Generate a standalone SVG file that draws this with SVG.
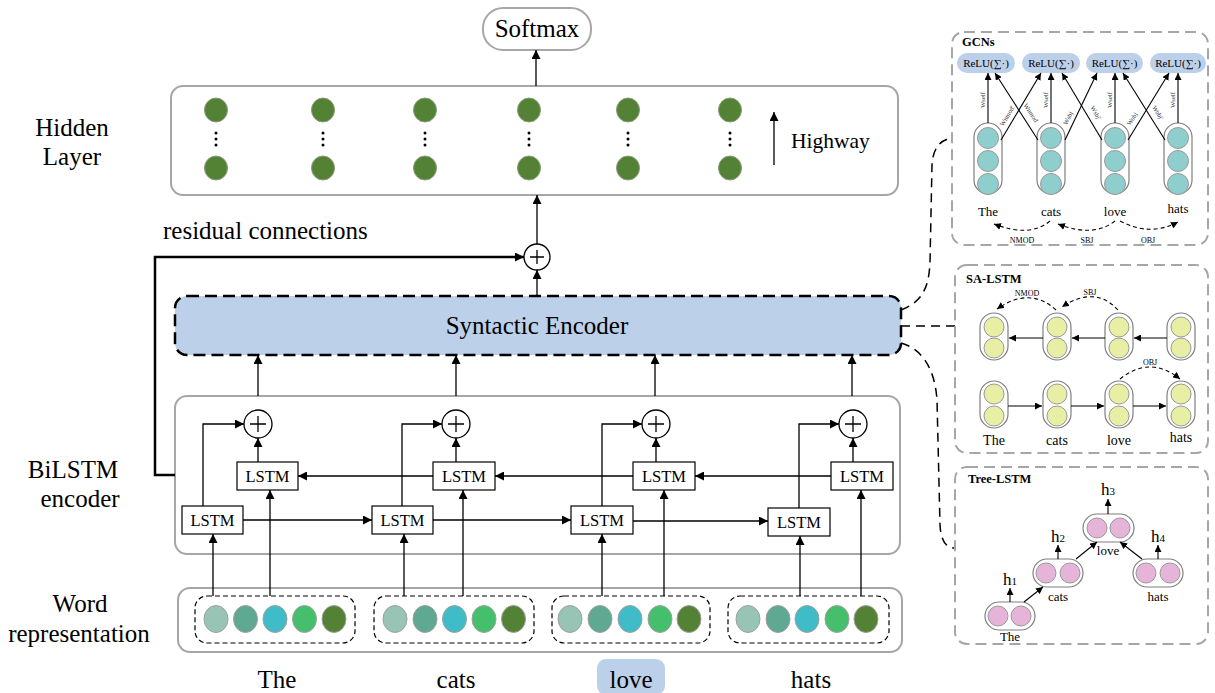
<svg xmlns="http://www.w3.org/2000/svg" width="1215" height="693" viewBox="0 0 1215 693" font-family="'Liberation Serif', 'Times New Roman', serif">
<defs>
<style>
text{font-family:"Liberation Serif","Times New Roman",serif;fill:#000}
.big{font-size:25px}
.mid{font-size:21.5px}
.lt{font-size:16.5px}
.gbox{fill:#fff;stroke:#a6a6a6;stroke-width:2}
.pbox{fill:#fff;stroke:#a6a6a6;stroke-width:2;stroke-dasharray:11 6}
.ln{stroke:#000;stroke-width:1.3;fill:none}
.thick{stroke:#000;stroke-width:2.5;fill:none}
.lstm{fill:#fff;stroke:#000;stroke-width:1.2}
.plus{fill:#fff;stroke:#000;stroke-width:1.3}
.hd{fill:#548235;stroke:#8a9a80;stroke-width:1}
.dash{stroke:#000;stroke-width:1.5;fill:none;stroke-dasharray:9 6}
.sdash{stroke:#000;stroke-width:1.1;fill:none;stroke-dasharray:4 3}
.cap{fill:#fff;stroke:#7f7f7f;stroke-width:1.2}
.teal{fill:#8ecfcd;stroke:#9a9a9a;stroke-width:1}
.yel{fill:#e8eea4;stroke:#9a9a9a;stroke-width:1}
.pink{fill:#e6b4d8;stroke:#9a9a9a;stroke-width:1}
.pill{fill:#bdd0e9}
.pt{font-size:11px}
.wt{font-size:6.5px;fill:#333}
.sw{font-size:13px}
.lab{font-size:8px}
.hdr{font-size:12.5px;font-weight:bold}
.sl{stroke:#000;stroke-width:1.1;fill:none}
</style>
<marker id="ah" viewBox="0 0 10 10" refX="10" refY="5" markerWidth="9" markerHeight="9" markerUnits="userSpaceOnUse" orient="auto"><path d="M0,0 L10,5 L0,10 z" fill="#000"/></marker>
<marker id="as" viewBox="0 0 10 10" refX="10" refY="5" markerWidth="7" markerHeight="7" markerUnits="userSpaceOnUse" orient="auto"><path d="M0,0 L10,5 L0,10 z" fill="#000"/></marker>
</defs>
<rect width="1215" height="693" fill="#fff"/>

<g id="labels">
<text class="big" x="72" y="136" text-anchor="middle">Hidden</text>
<text class="big" x="72" y="165" text-anchor="middle">Layer</text>
<text class="big" x="73" y="478" text-anchor="middle" font-size="23">BiLSTM</text>
<text class="big" x="80" y="507" text-anchor="middle">encoder</text>
<text class="big" x="80" y="612" text-anchor="middle">Word</text>
<text class="big" x="79" y="642" text-anchor="middle" font-size="26">representation</text>
<text class="big" x="163" y="239">residual connections</text>
</g>

<g id="softmax">
<rect x="483" y="8" width="108" height="42" rx="20" class="gbox"/>
<text class="big" x="537" y="37" text-anchor="middle">Softmax</text>
</g>

<g id="hidden-layer">
<rect x="171" y="86" width="727" height="109" rx="12" class="gbox"/>
<g>
<ellipse cx="216" cy="110" rx="11.5" ry="12" class="hd"/><ellipse cx="216" cy="168" rx="11.5" ry="12" class="hd"/>
<ellipse cx="323" cy="110" rx="11.5" ry="12" class="hd"/><ellipse cx="323" cy="168" rx="11.5" ry="12" class="hd"/>
<ellipse cx="425" cy="110" rx="11.5" ry="12" class="hd"/><ellipse cx="425" cy="168" rx="11.5" ry="12" class="hd"/>
<ellipse cx="529" cy="110" rx="11.5" ry="12" class="hd"/><ellipse cx="529" cy="168" rx="11.5" ry="12" class="hd"/>
<ellipse cx="628" cy="110" rx="11.5" ry="12" class="hd"/><ellipse cx="628" cy="168" rx="11.5" ry="12" class="hd"/>
<ellipse cx="730" cy="110" rx="11.5" ry="12" class="hd"/><ellipse cx="730" cy="168" rx="11.5" ry="12" class="hd"/>
</g>
<g fill="#000">
<circle cx="216" cy="133" r="1.5"/><circle cx="216" cy="139" r="1.5"/><circle cx="216" cy="145" r="1.5"/>
<circle cx="323" cy="133" r="1.5"/><circle cx="323" cy="139" r="1.5"/><circle cx="323" cy="145" r="1.5"/>
<circle cx="425" cy="133" r="1.5"/><circle cx="425" cy="139" r="1.5"/><circle cx="425" cy="145" r="1.5"/>
<circle cx="529" cy="133" r="1.5"/><circle cx="529" cy="139" r="1.5"/><circle cx="529" cy="145" r="1.5"/>
<circle cx="628" cy="133" r="1.5"/><circle cx="628" cy="139" r="1.5"/><circle cx="628" cy="145" r="1.5"/>
<circle cx="730" cy="133" r="1.5"/><circle cx="730" cy="139" r="1.5"/><circle cx="730" cy="145" r="1.5"/>
</g>
<line x1="774" y1="165" x2="774" y2="112" class="ln" marker-end="url(#ah)"/>
<text class="mid" x="791" y="148">Highway</text>
</g>

<g id="plus-top">
<circle cx="537" cy="257" r="13" class="plus"/>
<path d="M530,257 h14 M537,250 v14" class="ln"/>
</g>

<g id="syntactic-encoder">
<rect x="175" y="296" width="726" height="59" rx="12" fill="#bdd0e9" stroke="#000" stroke-width="2.5" stroke-dasharray="12 6"/>
<text class="big" x="537" y="334" text-anchor="middle">Syntactic Encoder</text>
</g>

<g id="bilstm-encoder">
<rect x="175" y="396" width="725" height="158" rx="12" class="gbox"/>
<g id="col1">
<circle cx="258" cy="424" r="14" class="plus"/><path d="M250,424 h16 M258,416 v16" class="ln"/>
<rect x="237" y="462" width="61" height="28" class="lstm"/><text class="lt" x="267.5" y="482" text-anchor="middle">LSTM</text>
<rect x="182" y="506" width="61" height="28" class="lstm"/><text class="lt" x="212.5" y="526" text-anchor="middle">LSTM</text>
</g>
<g id="col2">
<circle cx="456" cy="424" r="14" class="plus"/><path d="M448,424 h16 M456,416 v16" class="ln"/>
<rect x="433" y="462" width="62" height="28" class="lstm"/><text class="lt" x="464" y="482" text-anchor="middle">LSTM</text>
<rect x="372" y="506" width="61" height="28" class="lstm"/><text class="lt" x="402.5" y="526" text-anchor="middle">LSTM</text>
</g>
<g id="col3">
<circle cx="656" cy="424" r="14" class="plus"/><path d="M648,424 h16 M656,416 v16" class="ln"/>
<rect x="633" y="462" width="62" height="28" class="lstm"/><text class="lt" x="664" y="482" text-anchor="middle">LSTM</text>
<rect x="571" y="506" width="62" height="28" class="lstm"/><text class="lt" x="602" y="526" text-anchor="middle">LSTM</text>
</g>
<g id="col4">
<circle cx="853" cy="424" r="14" class="plus"/><path d="M845,424 h16 M853,416 v16" class="ln"/>
<rect x="831" y="462" width="62" height="28" class="lstm"/><text class="lt" x="862" y="482" text-anchor="middle">LSTM</text>
<rect x="768" y="508" width="62" height="28" class="lstm"/><text class="lt" x="799" y="528" text-anchor="middle">LSTM</text>
</g>
</g>

<g id="word-representation">
<rect x="178" y="588" width="724" height="64" rx="12" class="gbox"/>
<g fill="none" stroke="#000" stroke-width="1.2" stroke-dasharray="5 3">
<rect x="195" y="596" width="160" height="47" rx="12"/>
<rect x="374" y="596" width="160" height="47" rx="12"/>
<rect x="552" y="596" width="158" height="47" rx="12"/>
<rect x="728" y="596" width="161" height="47" rx="12"/>
</g>
<g stroke="#a0a0a0" stroke-width="1">
<ellipse cx="216" cy="619" rx="12" ry="13.5" fill="#97c4b4"/><ellipse cx="245.5" cy="619" rx="12" ry="13.5" fill="#5fa891"/><ellipse cx="275" cy="619" rx="12" ry="13.5" fill="#3fbcc8"/><ellipse cx="304.5" cy="619" rx="12" ry="13.5" fill="#45bf6b"/><ellipse cx="334" cy="619" rx="12" ry="13.5" fill="#548235"/>
<ellipse cx="395" cy="619" rx="12" ry="13.5" fill="#97c4b4"/><ellipse cx="425" cy="619" rx="12" ry="13.5" fill="#5fa891"/><ellipse cx="454.5" cy="619" rx="12" ry="13.5" fill="#3fbcc8"/><ellipse cx="484" cy="619" rx="12" ry="13.5" fill="#45bf6b"/><ellipse cx="513.5" cy="619" rx="12" ry="13.5" fill="#548235"/>
<ellipse cx="570" cy="619" rx="12" ry="13.5" fill="#97c4b4"/><ellipse cx="600" cy="619" rx="12" ry="13.5" fill="#5fa891"/><ellipse cx="630" cy="619" rx="12" ry="13.5" fill="#3fbcc8"/><ellipse cx="660" cy="619" rx="12" ry="13.5" fill="#45bf6b"/><ellipse cx="689" cy="619" rx="12" ry="13.5" fill="#548235"/>
<ellipse cx="748" cy="619" rx="12" ry="13.5" fill="#97c4b4"/><ellipse cx="778" cy="619" rx="12" ry="13.5" fill="#5fa891"/><ellipse cx="807" cy="619" rx="12" ry="13.5" fill="#3fbcc8"/><ellipse cx="837" cy="619" rx="12" ry="13.5" fill="#45bf6b"/><ellipse cx="866" cy="619" rx="12" ry="13.5" fill="#548235"/>
</g>
</g>

<g id="words">
<rect x="597" y="659" width="68" height="36" rx="9" fill="#bdd0e9"/>
<text class="big" x="277" y="688" text-anchor="middle">The</text>
<text class="big" x="456" y="688" text-anchor="middle">cats</text>
<text class="big" x="631" y="688" text-anchor="middle">love</text>
<text class="big" x="811" y="688" text-anchor="middle">hats</text>
</g>

<g id="connectors">
<line x1="536" y1="86" x2="536" y2="50" class="ln" stroke-width="1.6" marker-end="url(#ah)"/>
<line x1="537" y1="244" x2="537" y2="195" class="ln" marker-end="url(#ah)"/>
<line x1="537" y1="296" x2="537" y2="270" class="ln" marker-end="url(#ah)"/>
<path d="M175,475 H155 V257 H524" class="thick" marker-end="url(#ah)"/>
<line x1="258" y1="396" x2="258" y2="355" class="ln" marker-end="url(#ah)"/>
<line x1="456" y1="396" x2="456" y2="355" class="ln" marker-end="url(#ah)"/>
<line x1="655" y1="396" x2="655" y2="355" class="ln" marker-end="url(#ah)"/>
<line x1="852" y1="396" x2="852" y2="355" class="ln" marker-end="url(#ah)"/>
<line x1="258" y1="462" x2="258" y2="438" class="ln" marker-end="url(#ah)"/>
<line x1="456" y1="462" x2="456" y2="438" class="ln" marker-end="url(#ah)"/>
<line x1="656" y1="462" x2="656" y2="438" class="ln" marker-end="url(#ah)"/>
<line x1="853" y1="462" x2="853" y2="438" class="ln" marker-end="url(#ah)"/>
<path d="M203,506 V424 H244" class="ln" marker-end="url(#ah)"/>
<path d="M402,506 V424 H442" class="ln" marker-end="url(#ah)"/>
<path d="M602,506 V424 H642" class="ln" marker-end="url(#ah)"/>
<path d="M799,508 V424 H839" class="ln" marker-end="url(#ah)"/>
<line x1="433" y1="476" x2="298" y2="476" class="ln" marker-end="url(#ah)"/>
<line x1="633" y1="476" x2="495" y2="476" class="ln" marker-end="url(#ah)"/>
<line x1="831" y1="476" x2="695" y2="476" class="ln" marker-end="url(#ah)"/>
<line x1="243" y1="520" x2="372" y2="520" class="ln" marker-end="url(#ah)"/>
<line x1="433" y1="520" x2="571" y2="520" class="ln" marker-end="url(#ah)"/>
<line x1="633" y1="521" x2="768" y2="521" class="ln" marker-end="url(#ah)"/>
<line x1="213" y1="596" x2="213" y2="534" class="ln" marker-end="url(#ah)"/>
<line x1="270" y1="596" x2="270" y2="490" class="ln" marker-end="url(#ah)"/>
<line x1="404" y1="596" x2="404" y2="534" class="ln" marker-end="url(#ah)"/>
<line x1="463" y1="596" x2="463" y2="490" class="ln" marker-end="url(#ah)"/>
<line x1="602" y1="596" x2="602" y2="534" class="ln" marker-end="url(#ah)"/>
<line x1="664" y1="596" x2="664" y2="490" class="ln" marker-end="url(#ah)"/>
<line x1="800" y1="596" x2="800" y2="536" class="ln" marker-end="url(#ah)"/>
<line x1="861" y1="596" x2="861" y2="490" class="ln" marker-end="url(#ah)"/>
<path d="M901,310 C922,302 929,288 930,262 L932,165 C933,148 940,140 952,138" class="dash"/>
<path d="M901,326 L955,326" class="dash"/>
<path d="M901,343 C923,349 935,370 937,400 L940,525 C941,541 946,548 955,548" class="dash"/>
</g>

<g id="gcns">
<rect x="952" y="32" width="256" height="213" rx="12" class="pbox"/>
<text class="hdr" x="962" y="46">GCNs</text>
<rect x="957" y="53" width="58" height="20" rx="10" class="pill"/>
<rect x="1022" y="53" width="58" height="20" rx="10" class="pill"/>
<rect x="1086" y="53" width="57" height="20" rx="10" class="pill"/>
<rect x="1150" y="53" width="56" height="20" rx="10" class="pill"/>
<text class="pt" x="986" y="67" text-anchor="middle">ReLU(∑·)</text>
<text class="pt" x="1051" y="67" text-anchor="middle">ReLU(∑·)</text>
<text class="pt" x="1114.5" y="67" text-anchor="middle">ReLU(∑·)</text>
<text class="pt" x="1178" y="67" text-anchor="middle">ReLU(∑·)</text>
<g>
<rect x="974" y="123" width="28" height="71" rx="14" class="cap"/>
<circle cx="988" cy="138" r="10.5" class="teal"/><circle cx="988" cy="161" r="10.5" class="teal"/><circle cx="988" cy="184" r="10.5" class="teal"/>
<rect x="1037" y="123" width="28" height="71" rx="14" class="cap"/>
<circle cx="1051" cy="138" r="10.5" class="teal"/><circle cx="1051" cy="161" r="10.5" class="teal"/><circle cx="1051" cy="184" r="10.5" class="teal"/>
<rect x="1101" y="123" width="28" height="71" rx="14" class="cap"/>
<circle cx="1115" cy="138" r="10.5" class="teal"/><circle cx="1115" cy="161" r="10.5" class="teal"/><circle cx="1115" cy="184" r="10.5" class="teal"/>
<rect x="1164" y="123" width="28" height="71" rx="14" class="cap"/>
<circle cx="1178" cy="138" r="10.5" class="teal"/><circle cx="1178" cy="161" r="10.5" class="teal"/><circle cx="1178" cy="184" r="10.5" class="teal"/>
</g>
<g>
<line x1="988" y1="123" x2="988" y2="73" class="sl" marker-end="url(#as)"/>
<line x1="1051" y1="123" x2="1051" y2="73" class="sl" marker-end="url(#as)"/>
<line x1="1115" y1="123" x2="1115" y2="73" class="sl" marker-end="url(#as)"/>
<line x1="1178" y1="123" x2="1178" y2="73" class="sl" marker-end="url(#as)"/>
<line x1="1001" y1="140" x2="1041" y2="73" class="sl" marker-end="url(#as)"/>
<line x1="1038" y1="140" x2="995" y2="73" class="sl" marker-end="url(#as)"/>
<line x1="1065" y1="140" x2="1097" y2="73" class="sl" marker-end="url(#as)"/>
<line x1="1102" y1="140" x2="1062" y2="73" class="sl" marker-end="url(#as)"/>
<line x1="1128" y1="140" x2="1169" y2="73" class="sl" marker-end="url(#as)"/>
<line x1="1165" y1="140" x2="1123" y2="73" class="sl" marker-end="url(#as)"/>
</g>
<g>
<text class="wt" transform="translate(985,100) rotate(-90)" text-anchor="middle">Wself</text>
<text class="wt" transform="translate(1048,100) rotate(-90)" text-anchor="middle">Wself</text>
<text class="wt" transform="translate(1112,100) rotate(-90)" text-anchor="middle">Wself</text>
<text class="wt" transform="translate(1175,100) rotate(-90)" text-anchor="middle">Wself</text>
<text class="wt" transform="translate(1009,117) rotate(-59)" text-anchor="middle">Wnmod'</text>
<text class="wt" transform="translate(1029,114) rotate(57)" text-anchor="middle">Wnmod</text>
<text class="wt" transform="translate(1070,119) rotate(-64)" text-anchor="middle">Wsbj</text>
<text class="wt" transform="translate(1094,114) rotate(59)" text-anchor="middle">Wsbj'</text>
<text class="wt" transform="translate(1134,120) rotate(-58)" text-anchor="middle">Wobj</text>
<text class="wt" transform="translate(1156,114) rotate(58)" text-anchor="middle">Wobj'</text>
</g>
<text class="sw" x="988" y="216" text-anchor="middle">The</text>
<text class="sw" x="1051" y="216" text-anchor="middle">cats</text>
<text class="sw" x="1115" y="216" text-anchor="middle">love</text>
<text class="sw" x="1178" y="213" text-anchor="middle">hats</text>
<path d="M1050,221 Q1030,238 994,224" class="sdash" marker-end="url(#as)"/>
<path d="M1115,221 Q1093,238 1058,224" class="sdash" marker-end="url(#as)"/>
<path d="M1120,221 Q1150,237 1178,222" class="sdash" marker-end="url(#as)"/>
<text class="lab" x="1022" y="243" text-anchor="middle">NMOD</text>
<text class="lab" x="1087" y="243" text-anchor="middle">SBJ</text>
<text class="lab" x="1148" y="243" text-anchor="middle">OBJ</text>
</g>

<g id="sa-lstm">
<rect x="955" y="265" width="253" height="188" rx="12" class="pbox"/>
<text class="hdr" x="966" y="283">SA-LSTM</text>
<g>
<rect x="980" y="313" width="28" height="47" rx="14" class="cap"/><circle cx="994" cy="327" r="10" class="yel"/><circle cx="994" cy="348" r="10" class="yel"/>
<rect x="1043" y="313" width="28" height="47" rx="14" class="cap"/><circle cx="1057" cy="327" r="10" class="yel"/><circle cx="1057" cy="348" r="10" class="yel"/>
<rect x="1105" y="313" width="28" height="47" rx="14" class="cap"/><circle cx="1119" cy="327" r="10" class="yel"/><circle cx="1119" cy="348" r="10" class="yel"/>
<rect x="1167" y="313" width="28" height="47" rx="14" class="cap"/><circle cx="1181" cy="327" r="10" class="yel"/><circle cx="1181" cy="348" r="10" class="yel"/>
<rect x="980" y="381" width="28" height="47" rx="14" class="cap"/><circle cx="994" cy="394" r="10" class="yel"/><circle cx="994" cy="416" r="10" class="yel"/>
<rect x="1043" y="381" width="28" height="47" rx="14" class="cap"/><circle cx="1057" cy="394" r="10" class="yel"/><circle cx="1057" cy="416" r="10" class="yel"/>
<rect x="1105" y="381" width="28" height="47" rx="14" class="cap"/><circle cx="1119" cy="394" r="10" class="yel"/><circle cx="1119" cy="416" r="10" class="yel"/>
<rect x="1167" y="381" width="28" height="47" rx="14" class="cap"/><circle cx="1181" cy="394" r="10" class="yel"/><circle cx="1181" cy="416" r="10" class="yel"/>
</g>
<line x1="1043" y1="338" x2="1009" y2="338" class="sl" stroke-width="1.4" marker-end="url(#as)"/>
<line x1="1105" y1="338" x2="1072" y2="338" class="sl" stroke-width="1.4" marker-end="url(#as)"/>
<line x1="1167" y1="338" x2="1134" y2="338" class="sl" stroke-width="1.4" marker-end="url(#as)"/>
<line x1="1008" y1="406" x2="1042" y2="406" class="sl" stroke-width="1.4" marker-end="url(#as)"/>
<line x1="1071" y1="406" x2="1104" y2="406" class="sl" stroke-width="1.4" marker-end="url(#as)"/>
<line x1="1133" y1="406" x2="1166" y2="406" class="sl" stroke-width="1.4" marker-end="url(#as)"/>
<path d="M1056,310 Q1030,286 997,309" class="sdash" marker-end="url(#as)"/>
<path d="M1118,310 Q1095,285 1062,307" class="sdash" marker-end="url(#as)"/>
<path d="M1120,379 Q1150,355 1180,379" class="sdash" marker-end="url(#as)"/>
<text class="lab" x="1027" y="296" text-anchor="middle">NMOD</text>
<text class="lab" x="1090" y="295" text-anchor="middle">SBJ</text>
<text class="lab" x="1150" y="365" text-anchor="middle">OBJ</text>
<text x="994" y="445" text-anchor="middle" font-size="14">The</text>
<text x="1057" y="445" text-anchor="middle" font-size="14">cats</text>
<text x="1119" y="445" text-anchor="middle" font-size="14">love</text>
<text x="1181" y="442" text-anchor="middle" font-size="14">hats</text>
</g>

<g id="tree-lstm">
<rect x="955" y="467" width="253" height="177" rx="12" class="pbox"/>
<text class="hdr" x="968" y="483">Tree-LSTM</text>
<rect x="985" y="602" width="50" height="28" rx="14" class="cap"/><circle cx="998" cy="616" r="10" class="pink"/><circle cx="1021" cy="616" r="10" class="pink"/>
<rect x="1033" y="559" width="50" height="28" rx="14" class="cap"/><circle cx="1046" cy="573" r="10" class="pink"/><circle cx="1070" cy="573" r="10" class="pink"/>
<rect x="1083" y="514" width="51" height="28" rx="14" class="cap"/><circle cx="1097" cy="528" r="10" class="pink"/><circle cx="1120" cy="528" r="10" class="pink"/>
<rect x="1133" y="559" width="50" height="28" rx="14" class="cap"/><circle cx="1146" cy="573" r="10" class="pink"/><circle cx="1170" cy="573" r="10" class="pink"/>
<text class="sw" x="1010" y="641" text-anchor="middle">The</text>
<text class="sw" x="1058" y="601" text-anchor="middle">cats</text>
<text class="sw" x="1108" y="555" text-anchor="middle">love</text>
<text class="sw" x="1158" y="601" text-anchor="middle">hats</text>
<line x1="1010" y1="602" x2="1010" y2="588" class="sl" marker-end="url(#as)"/>
<line x1="1058" y1="559" x2="1058" y2="545" class="sl" marker-end="url(#as)"/>
<line x1="1108" y1="514" x2="1108" y2="499" class="sl" marker-end="url(#as)"/>
<line x1="1158" y1="559" x2="1158" y2="545" class="sl" marker-end="url(#as)"/>
<line x1="1024" y1="602" x2="1043" y2="587" class="sl" marker-end="url(#as)"/>
<line x1="1076" y1="559" x2="1097" y2="542" class="sl" marker-end="url(#as)"/>
<line x1="1142" y1="559" x2="1120" y2="542" class="sl" marker-end="url(#as)"/>
<text x="1010" y="585" text-anchor="middle" font-size="17">h<tspan font-size="11">1</tspan></text>
<text x="1058" y="542" text-anchor="middle" font-size="17">h<tspan font-size="11">2</tspan></text>
<text x="1108" y="495" text-anchor="middle" font-size="17">h<tspan font-size="11">3</tspan></text>
<text x="1158" y="542" text-anchor="middle" font-size="17">h<tspan font-size="11">4</tspan></text>
</g>
</svg>
